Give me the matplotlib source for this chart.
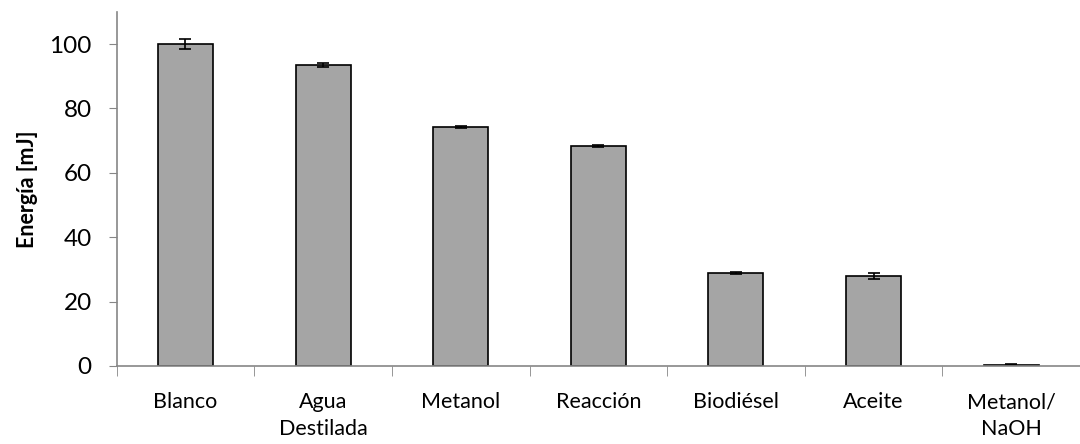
import numpy as np
import matplotlib.pyplot as plt

# datos
categorias = ["Blanco", "Agua\nDestilada", "Metanol", "Reacción", "Biodiésel", "Aceite", "Metanol/\nNaOH"]
energia = [100.0, 93.5, 74.3, 68.2, 28.9, 28.0, 0.4]
error = [1.5, 0.7, 0.3, 0.3, 0.4, 1.0, 0.1]

plt.rcParams["font.family"] = ["Lato", "DejaVu Sans"]

fig = plt.figure(figsize=(10.8, 4.44), dpi=100)
ax = fig.add_axes([0.108, 0.176, 0.892, 0.797])

x = np.arange(len(categorias))
ax.bar(x, energia, width=0.4, color="#a5a5a5", edgecolor="black", linewidth=1.2,
       yerr=error, capsize=4, error_kw={"elinewidth": 1.2, "capthick": 1.2, "ecolor": "black"}, zorder=2)

ax.set_xlim(-0.5, len(categorias) - 0.5)
ax.set_ylim(0, 110)
ax.set_yticks([0, 20, 40, 60, 80, 100])
ax.tick_params(axis="y", labelsize=17.5, length=6, color="#868686", direction="out", pad=12)

ax.set_xticks(x)
ax.set_xticklabels(categorias, fontsize=15.5, linespacing=1.45)
ax.tick_params(axis="x", length=0, pad=19)
ax.set_xticks(np.arange(-0.5, len(categorias)), minor=True)
ax.tick_params(axis="x", which="minor", length=7, color="#868686", direction="out")

for s in ["top", "right"]:
    ax.spines[s].set_visible(False)
for s in ["left", "bottom"]:
    ax.spines[s].set_color("#868686")
    ax.spines[s].set_linewidth(1.2)

ax.set_ylabel("Energía [mJ]", fontsize=15.5, fontweight="bold", labelpad=8)

fig.savefig("out.png", dpi=100)
